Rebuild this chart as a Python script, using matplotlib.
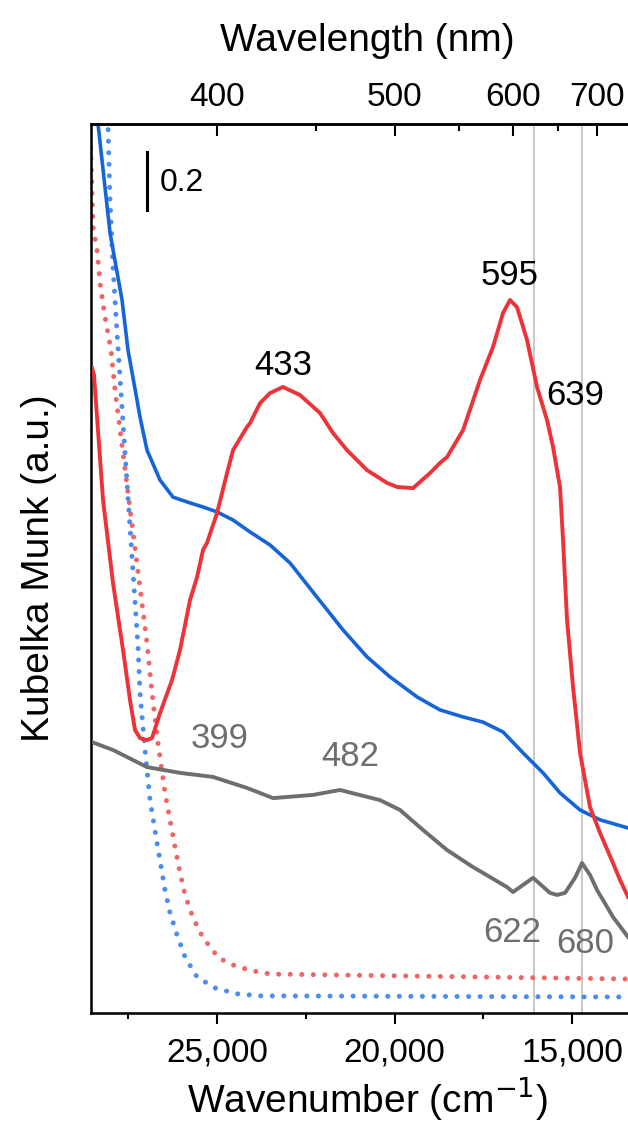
import numpy as np
import matplotlib.pyplot as plt

plt.rcParams['font.family'] = ['Liberation Sans', 'DejaVu Sans']

# sample (red), reference (blue), third sample (grey); wavenumber in cm^-1, KM in a.u.
red_wn = [28521, 28465, 28380, 28211, 27930, 27648, 27451, 27310, 27169, 26972,
          26831, 26606, 26268, 26042, 25761, 25563, 25394, 25282, 25000, 24718,
          24549, 24155, 24070, 23789, 23507, 23141, 22662, 22098, 21732, 21338,
          20774, 20211, 19929, 19479, 19000, 18718, 18521, 18070, 17591, 17225,
          16943, 16746, 16549, 16267, 15986, 15704, 15535, 15338, 15253, 15140,
          14971, 14774, 14493, 14211, 13845, 13648, 13422]
red_km = [2.224, 2.200, 2.055, 1.769, 1.483, 1.252, 1.079, 0.976, 0.948, 0.941,
          0.948, 1.034, 1.148, 1.252, 1.424, 1.503, 1.597, 1.621, 1.724, 1.862,
          1.941, 2.021, 2.034, 2.103, 2.138, 2.159, 2.131, 2.069, 2.000, 1.941,
          1.872, 1.828, 1.814, 1.810, 1.862, 1.897, 1.917, 2.010, 2.183, 2.297,
          2.414, 2.459, 2.434, 2.321, 2.159, 2.045, 1.952, 1.814, 1.631, 1.355,
          1.124, 0.897, 0.710, 0.621, 0.517, 0.459, 0.400]

blue_wn = [28409, 28352, 28014, 27676, 27507, 27254, 27169, 26972, 26606, 26239,
           25761, 25394, 25000, 24549, 24070, 23507, 22944, 22183, 21451, 20774,
           20127, 19366, 18718, 18070, 17507, 16943, 16380, 15817, 15338, 14774,
           14211, 13422]
blue_km = [3.097, 3.066, 2.690, 2.459, 2.286, 2.114, 2.055, 1.941, 1.838, 1.779,
           1.759, 1.745, 1.728, 1.700, 1.659, 1.614, 1.552, 1.434, 1.321, 1.228,
           1.159, 1.090, 1.045, 1.021, 1.003, 0.969, 0.897, 0.828, 0.759, 0.700,
           0.666, 0.638]

grey_wn = [28521, 27930, 26972, 26042, 25113, 24155, 23422, 22296, 21535, 20408,
           19845, 19197, 18521, 17788, 17507, 16831, 16662, 16098, 15619, 15422,
           15197, 14915, 14718, 14493, 14295, 13845, 13422]
grey_km = [0.934, 0.907, 0.848, 0.828, 0.814, 0.776, 0.741, 0.752, 0.769, 0.734,
           0.700, 0.631, 0.562, 0.503, 0.483, 0.434, 0.417, 0.466, 0.414, 0.407,
           0.414, 0.466, 0.517, 0.476, 0.424, 0.331, 0.262]

# dotted baselines
bdot_wn = [28099, 28071, 28014, 27930, 27817, 27704, 27225, 27169, 27028, 26887,
           26690, 26465, 26324, 26127, 25901, 25563, 25056, 24437, 23789, 13422]
bdot_km = [3.086, 3.066, 2.803, 2.572, 2.345, 2.138, 1.262, 1.103, 0.907, 0.734,
           0.586, 0.424, 0.345, 0.269, 0.193, 0.124, 0.086, 0.066, 0.059, 0.055]

rdot_wn = [28578, 28493, 28380, 28296, 28155, 27986, 27873, 26972, 26831, 26662,
           26465, 26183, 26042, 25901, 25676, 25394, 24972, 24690, 24408, 24070,
           23732, 23422, 13422]
rdot_km = [3.066, 2.710, 2.631, 2.517, 2.400, 2.286, 2.148, 1.276, 1.103, 0.931,
           0.759, 0.572, 0.483, 0.407, 0.328, 0.259, 0.193, 0.172, 0.159, 0.148,
           0.138, 0.134, 0.117]

marked_nm = [622, 680]
wl_major = [400, 500, 600, 700]
wl_minor = [450, 550, 650]

black_labels = [('433', 23141, 2.234), ('595', 16746, 2.545), ('639', 14915, 2.131)]
grey_labels = [('399', 24915, 0.948), ('482', 21253, 0.883),
               ('622', 16690, 0.279), ('680', 14633, 0.241)]

RED = '#ee3338'
RED_DOT = '#f06464'
BLUE = '#1565d8'
BLUE_DOT = '#4a8cf0'
GREY = '#6e6e6e'

fig = plt.figure(figsize=(6.28, 11.24), dpi=100)
ax = fig.add_axes([0.1449, 0.0988, 0.879, 0.7909])

for nm in marked_nm:
    ax.axvline(1e7 / nm, color='#c8c8c8', lw=1.4, zorder=1)

dot = (0, (0.01, 2.3))
ax.plot(rdot_wn, rdot_km, color=RED_DOT, lw=3.6, linestyle=dot,
        dash_capstyle='round', zorder=2)
ax.plot(bdot_wn, bdot_km, color=BLUE_DOT, lw=3.6, linestyle=dot,
        dash_capstyle='round', zorder=2)
ax.plot(grey_wn, grey_km, color=GREY, lw=2.8, solid_joinstyle='round', zorder=3)
ax.plot(blue_wn, blue_km, color=BLUE, lw=2.6, solid_joinstyle='round', zorder=3)
ax.plot(red_wn, red_km, color=RED, lw=2.8, solid_joinstyle='round', zorder=4)

ax.set_xlim(28550, 13000)
ax.set_ylim(0, 3.066)

for txt, x, y in black_labels:
    ax.text(x, y, txt, fontsize=25, ha='center', va='center', color='black')
for txt, x, y in grey_labels:
    ax.text(x, y, txt, fontsize=25, ha='center', va='center', color=GREY)

# 0.2 scale bar
ax.plot([26972, 26972], [2.769, 2.969], color='black', lw=2.2)
ax.text(26606, 2.862, '0.2', fontsize=23, ha='left', va='center')

ax.set_xticks([25000, 20000, 15000])
ax.set_xticklabels(['25,000', '20,000', '15,000'])
ax.set_xticks([27500, 22500, 17500], minor=True)
ax.tick_params(axis='x', which='major', direction='out', length=8, width=1.5,
               labelsize=24, pad=10)
ax.tick_params(axis='x', which='minor', direction='out', length=4.5, width=1.5)
ax.set_yticks([])
ax.set_xlabel('Wavenumber (cm$^{-1}$)', fontsize=28, labelpad=4)
ax.set_ylabel('Kubelka Munk (a.u.)', fontsize=28)
ax.yaxis.set_label_coords(-0.062, 0.5)
for s in ax.spines.values():
    s.set_linewidth(1.8)
ax.spines['right'].set_visible(False)

ax2 = ax.twiny()
ax2.set_xlim(ax.get_xlim())
ax2.set_xticks([1e7 / w for w in wl_major])
ax2.set_xticklabels([str(w) for w in wl_major])
ax2.set_xticks([1e7 / w for w in wl_minor], minor=True)
ax2.tick_params(axis='x', which='major', direction='in', length=8.5, width=1.5,
                labelsize=24, pad=8)
ax2.tick_params(axis='x', which='minor', direction='in', length=5, width=1.5)
ax2.set_xlabel('Wavelength (nm)', fontsize=28, labelpad=22)
ax2.spines['right'].set_visible(False)
ax2.spines['top'].set_linewidth(1.8)

fig.savefig('out.png', dpi=100)
